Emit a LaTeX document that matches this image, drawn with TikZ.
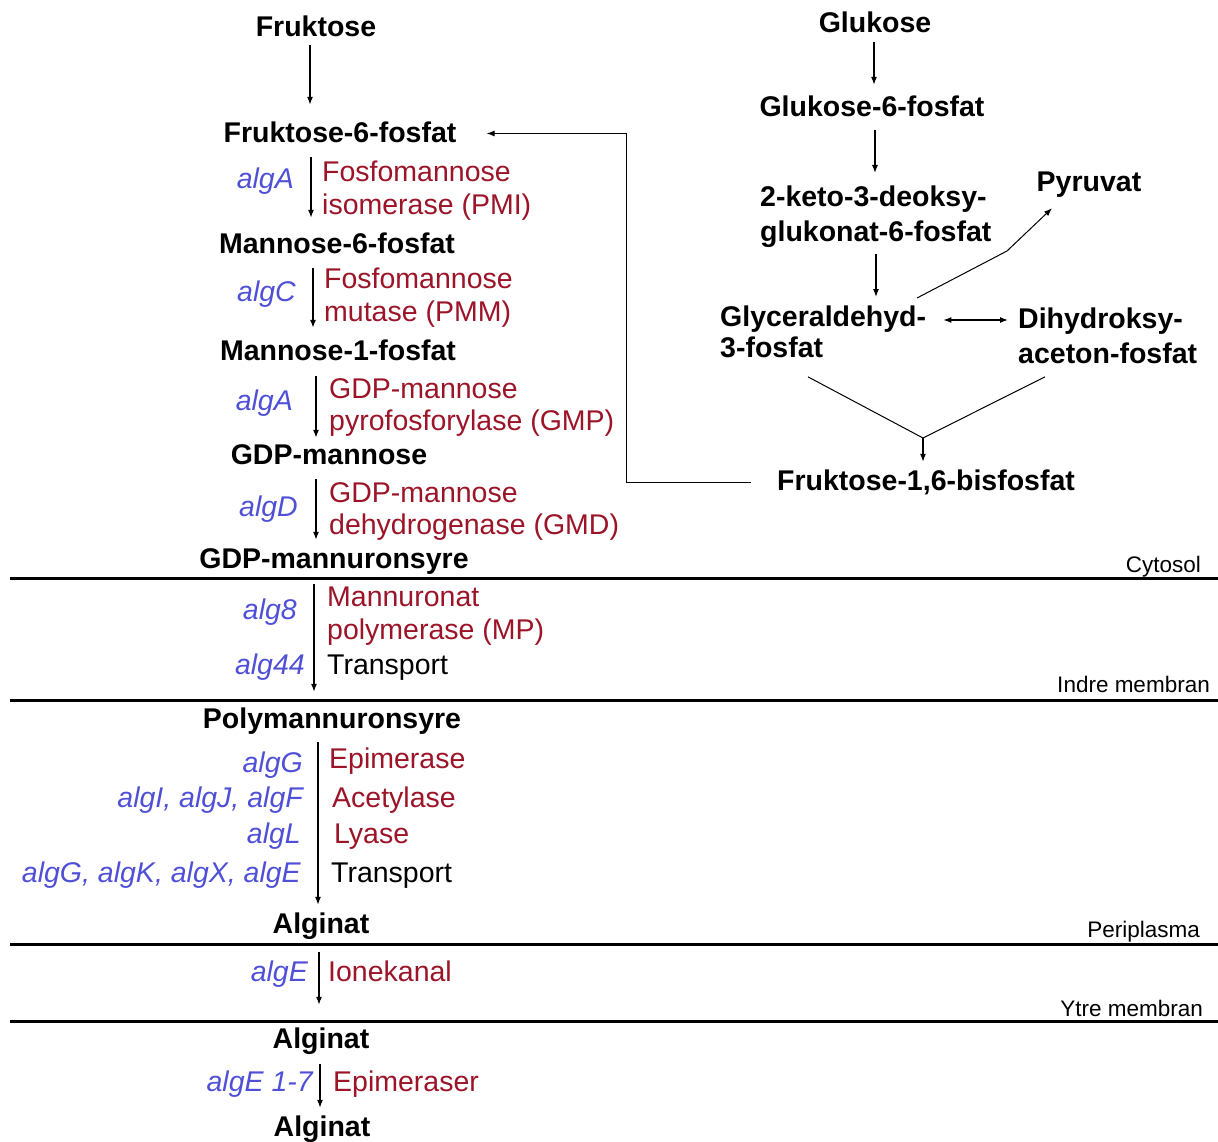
\documentclass[tikz,border=0pt]{standalone}
\usepackage{fontspec}
\setmainfont{Liberation Sans}
\usetikzlibrary{arrows.meta,calc}
\definecolor{genblue}{RGB}{80,80,215}
\definecolor{enzred}{RGB}{155,20,40}
\tikzset{
  met/.style={font=\fontsize{28.5}{33}\selectfont\bfseries, inner sep=0pt, text height=21pt, text depth=6pt, anchor=base},
  metml/.style={font=\fontsize{28.5}{34.5}\selectfont\bfseries, inner sep=0pt, align=left, anchor=north west},
  enz/.style={font=\fontsize{28.5}{32.5}\selectfont, text=enzred, inner sep=0pt, align=left, anchor=north west},
  enzone/.style={font=\fontsize{28.5}{32.5}\selectfont, text=enzred, inner sep=0pt, anchor=base west},
  tra/.style={font=\fontsize{28.5}{32.5}\selectfont, text=black, inner sep=0pt, anchor=base west},
  gen/.style={font=\fontsize{28.5}{32.5}\selectfont\itshape, text=genblue, inner sep=0pt, anchor=base east},
  reg/.style={font=\fontsize{22.5}{26}\selectfont, inner sep=0pt, anchor=base east},
  arr/.style={line width=1.2pt, -{Latex[length=8pt,width=6pt]}},
  darr/.style={line width=1.2pt, {Latex[length=8pt,width=6pt]}-{Latex[length=8pt,width=6pt]}},
  thin/.style={line width=1pt},
  memb/.style={line width=3pt},
  gap/.style 2 args={shorten <=#1pt, shorten >=#2pt}
}
\begin{document}
\begin{tikzpicture}[x=1pt,y=-1pt]
\useasboundingbox (0,0) rectangle (1218,1142);

% membranes
\draw[memb] (10,578) -- (1218,578);
\draw[memb] (10,700) -- (1218,700);
\draw[memb] (10,944) -- (1218,944);
\draw[memb] (10,1021) -- (1218,1021);

\node[reg] (lcyt) at (1201,572) {Cytosol};
\node[reg] (lind) at (1210,692) {Indre membran};
\node[reg] (lper) at (1200,937) {Periplasma};
\node[reg] (lytr) at (1203,1016) {Ytre membran};

% left column metabolites
\node[met] (fru) at (316,37) {Fruktose};
\node[met] (f6) at (340,143) {Fruktose-6-fosfat};
\node[met] (m6) at (337,253) {Mannose-6-fosfat};
\node[met] (m1) at (338,360) {Mannose-1-fosfat};
\node[met] (gdpm) at (329,464) {GDP-mannose};
\node[met] (gdpms) at (334,568) {GDP-mannuronsyre};
\node[met] (poly) at (332,728) {Polymannuronsyre};
\node[met] (alga) at (321,933) {Alginat};
\node[met] (algb) at (321,1048) {Alginat};
\node[met] (algc) at (322,1136) {Alginat};

% enzymes
\node[enz] (e1) at (322,161) {Fosfomannose\\isomerase (PMI)};
\node[enz] (e2) at (324,268) {Fosfomannose\\mutase (PMM)};
\node[enz] (e3) at (329,378) {GDP-mannose\\pyrofosforylase (GMP)};
\node[enz] (e4) at (329,482) {GDP-mannose\\dehydrogenase (GMD)};
\node[enz] (e5) at (327,587) {Mannuronat\\polymerase (MP)};
\node[tra] (t1) at (327,674) {Transport};
\node[enzone] (e6) at (329,768) {Epimerase};
\node[enzone] (e7) at (332,807) {Acetylase};
\node[enzone] (e8) at (334,843) {Lyase};
\node[tra] (t2) at (331,882) {Transport};
\node[enzone] (e9) at (328,981) {Ionekanal};
\node[enzone] (e10) at (333,1091) {Epimeraser};

% genes
\node[gen] (g1) at (294,189) {algA};
\node[gen] (g2) at (296,301) {algC};
\node[gen] (g3) at (293,410) {algA};
\node[gen] (g4) at (298,516) {algD};
\node[gen] (g5) at (297,619) {alg8};
\node[gen] (g6) at (305,674) {alg44};
\node[gen] (g7) at (303,772) {algG};
\node[gen] (g8) at (303,807) {algI, algJ, algF};
\node[gen] (g9) at (301,843) {algL};
\node[gen] (g10) at (301,882) {algG, algK, algX, algE};
\node[gen] (g11) at (308,981) {algE};
\node[gen] (g12) at (313,1091) {algE 1-7};

% left column arrows
\coordinate (x1) at (310,0);
\coordinate (x2) at (311,0);
\coordinate (x3) at (313,0);
\coordinate (x4) at (316,0);
\coordinate (x6) at (314,0);
\coordinate (x7) at (318,0);
\coordinate (x8) at (319,0);
\coordinate (x9) at (320,0);
\draw[arr,gap={2}{17}] (fru.south -| x1) -- (f6.north -| x1);
\draw[arr,gap={8}{14}] (f6.south -| x2) -- (m6.north -| x2);
\draw[arr,gap={9}{11}] (m6.south -| x3) -- (m1.north -| x3);
\draw[arr,gap={10}{5}] (m1.south -| x4) -- (gdpm.north -| x4);
\draw[arr,gap={9}{7}] (gdpm.south -| x4) -- (gdpms.north -| x4);
\draw[arr,gap={10}{15}] (gdpms.south -| x6) -- (poly.north -| x6);
\draw[arr,gap={8}{7}] (poly.south -| x7) -- (alga.north -| x7);
\draw[arr,gap={13}{22}] (alga.south -| x8) -- (algb.north -| x8);
\draw[arr,gap={10}{7}] (algb.south -| x9) -- (algc.north -| x9);

% right side
\node[met] (glu) at (875,33) {Glukose};
\node[met] (g6p) at (872,117) {Glukose-6-fosfat};
\node[metml] (keto) at (760,186) {2-keto-3-deoksy-\\glukonat-6-fosfat};
\node[met] (pyr) at (1089,192) {Pyruvat};
\node[metml, font=\fontsize{28.5}{30.5}\selectfont\bfseries] (glyc) at (720,306) {Glyceraldehyd-\\3-fosfat};
\node[metml] (dihy) at (1018,308) {Dihydroksy-\\aceton-fosfat};
\node[met] (fbp) at (926,490) {Fruktose-1,6-bisfosfat};

\coordinate (x10) at (874,0);
\coordinate (x11) at (875,0);
\coordinate (x12) at (876,0);
\draw[arr,gap={3}{11}] (glu.south -| x10) -- (g6p.north -| x10);
\draw[arr,gap={7}{13}] (g6p.south -| x11) -- (keto.north -| x11);
\draw[arr,gap={6}{9}] (keto.south -| x12) -- (glyc.north -| x12);

\draw[thin,-{Latex[length=8pt,width=6pt]}] ($(glyc.north west)+(197,-8)$) -- (1007,251) -- ($(pyr.south)+(-37,10)$);
\draw[darr] ($(glyc.north east)+(17,14)$) -- ($(dihy.north west)+(-10,12)$);

\coordinate (vj) at (923,438);
\draw[thin] ($(glyc.south west)+(88,19)$) -- (vj) -- ($(dihy.south west)+(27,13)$);
\draw[arr,gap={0}{7}] (vj) -- (fbp.north -| vj);

% feedback to Fruktose-6-fosfat
\draw[line width=1pt,-{Latex[length=8pt,width=6pt]}] ([xshift=-26pt]fbp.west) -| ([xshift=170pt,yshift=2pt]f6.east) -- ([xshift=30pt,yshift=2pt]f6.east);
\end{tikzpicture}
\end{document}
